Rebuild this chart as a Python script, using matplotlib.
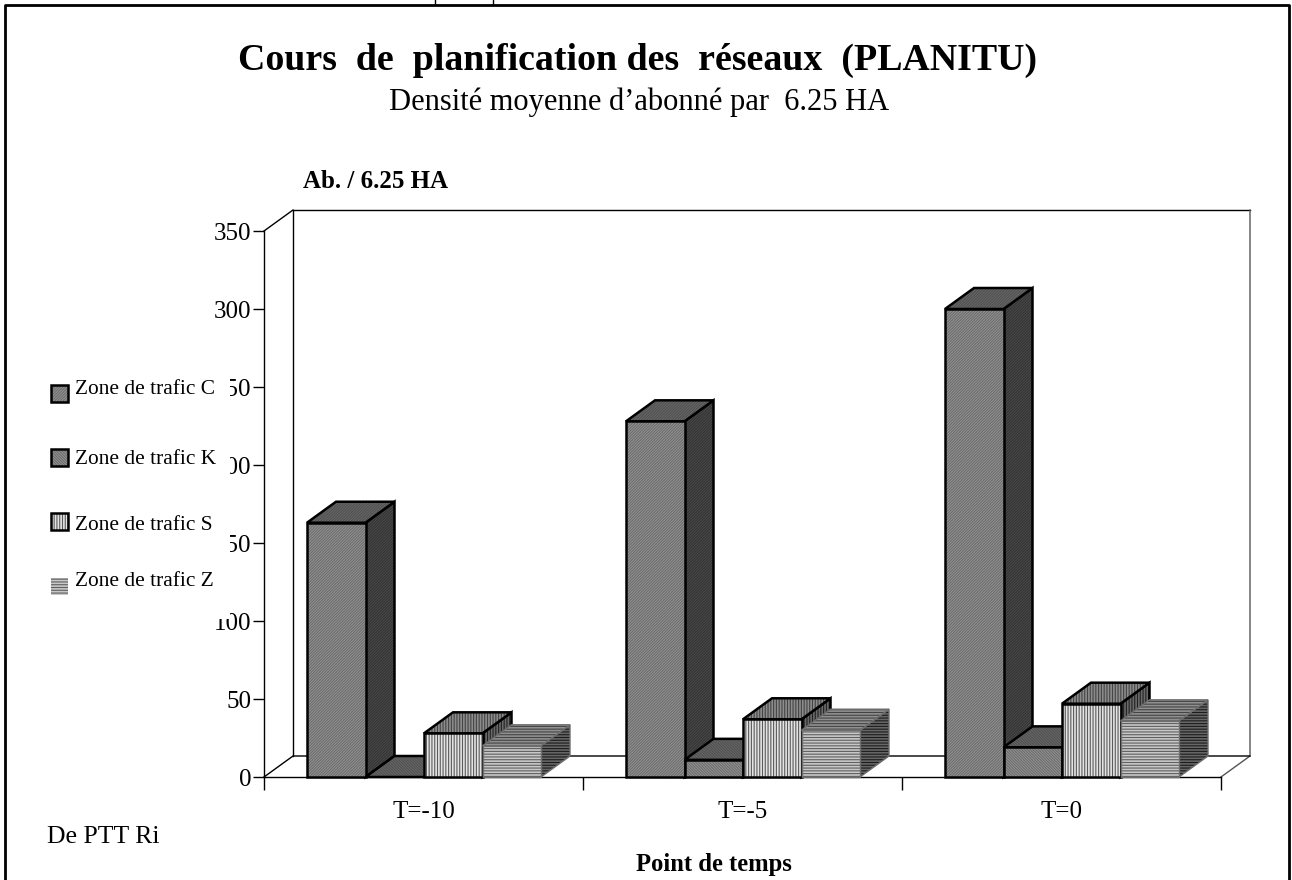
import numpy as np
import matplotlib
matplotlib.use('Agg')
import matplotlib.pyplot as plt
from matplotlib.patches import Polygon, Rectangle

plt.rcParams['font.family'] = ['Liberation Serif', 'DejaVu Serif']
plt.rcParams['hatch.linewidth'] = 0.8

groups = ['T=-10', 'T=-5', 'T=0']
zone_names = ['Zone de trafic C', 'Zone de trafic K', 'Zone de trafic S', 'Zone de trafic Z']
zone_c = [163, 228, 300]
zone_k = [0, 11, 19]
zone_s = [28, 37, 47]
zone_z = [20, 30, 36]
y_ticks = [0, 50, 100, 150, 200, 250, 300, 350]

W, H = 1292, 880
fig = plt.figure(figsize=(W / 100, H / 100), dpi=100, facecolor='white')

# plot box: y=0 at px 777, y=350 at px 231
ax = fig.add_axes([264 / W, 1 - 777 / H, (1221 - 264) / W, (777 - 231) / H])
ax.set_xlim(0, 3)
ax.set_ylim(0, 350)
for s in ['top', 'right']:
    ax.spines[s].set_visible(False)
ax.spines['left'].set_linewidth(1.0)
ax.spines['bottom'].set_linewidth(1.0)
ax.set_yticks(y_ticks)
ax.set_xticks([0, 1, 2, 3])
ax.set_xticklabels([])
ax.tick_params(axis='y', labelsize=18, length=8, width=1, pad=1)
ax.tick_params(axis='x', length=9, width=1)
ax.patch.set_alpha(0)

# 3d depth in data units
dx = 29 / 319
dy = 21 / 1.56
bar_w = 58.5 / 319
offset = 43 / 319

# back wall and floor
ax.plot([dx, dx, 3 + dx], [dy, 350 + dy, 350 + dy], color='black', lw=1, clip_on=False, zorder=1)
ax.plot([3 + dx, 3 + dx, 3], [350 + dy, dy, 0], color='#555555', lw=1, clip_on=False, zorder=1)
ax.plot([0, dx, 3 + dx], [0, dy, dy], color='black', lw=1, clip_on=False, zorder=1)
ax.plot([0, dx], [350, 350 + dy], color='black', lw=1, clip_on=False, zorder=1)

diag = '/' * 12
back = '\\' * 12
styles = [
    {'front': ('#969696', '#6c6c6c', diag), 'top': ('#6a6a6a', '#505050', diag),
     'side': ('#4c4c4c', '#333333', diag), 'edge': 'black'},
    {'front': ('#969696', '#6c6c6c', back), 'top': ('#6a6a6a', '#505050', back),
     'side': ('#4c4c4c', '#333333', back), 'edge': 'black'},
    {'front': ('#e4e4e4', '#5a5a5a', '|' * 6), 'top': ('#8c8c8c', '#444444', '|' * 6),
     'side': ('#6a6a6a', '#222222', '|' * 6), 'edge': 'black'},
    {'front': ('#c8c8c8', '#5f5f5f', '-' * 6), 'top': ('#909090', '#444444', '-' * 6),
     'side': ('#666666', '#1c1c1c', '-' * 6), 'edge': '#6e6e6e'},
]


def face(points, look, edge, z):
    ax.add_patch(Polygon(points, closed=True, facecolor=look[0], edgecolor=look[1], hatch=look[2],
                         lw=0, clip_on=False, zorder=z))
    edge_w = 1.8 if edge == 'black' else 1
    ax.add_patch(Polygon(points, closed=True, fill=False, edgecolor=edge, lw=edge_w, clip_on=False, zorder=z + 0.01))


for g in range(len(groups)):
    series = [zone_c[g], zone_k[g], zone_s[g], zone_z[g]]
    # later bars overlap the earlier ones
    for i in range(4):
        v = series[i]
        st = styles[i]
        x0 = g + offset + i * bar_w
        x1 = x0 + bar_w
        z = 3 + g + i * 0.1
        face([(x1, 0), (x1 + dx, dy), (x1 + dx, v + dy), (x1, v)], st['side'], st['edge'], z)
        face([(x0, v), (x0 + dx, v + dy), (x1 + dx, v + dy), (x1, v)], st['top'], st['edge'], z + 0.02)
        if v > 0:
            face([(x0, 0), (x1, 0), (x1, v), (x0, v)], st['front'], st['edge'], z + 0.04)

# overlay in pixel coordinates for the page furniture
ov = fig.add_axes([0, 0, 1, 1], zorder=5)
ov.set_xlim(0, W)
ov.set_ylim(H, 0)
ov.axis('off')

# frame has no bottom edge, the page cuts it off
ov.plot([5, 5, 1289, 1289], [880, 5, 5, 880], color='black', lw=2)
ov.plot([435, 435], [0, 4], color='black', lw=1)
ov.plot([493, 493], [0, 4], color='black', lw=1)

ov.text(238, 60, 'Cours  de  planification des  réseaux  (PLANITU)', fontsize=27.3, fontweight='bold',
        ha='left', va='center')
ov.text(389, 102, 'Densité moyenne d’abonné par  6.25 HA', fontsize=22, ha='left', va='center')
ov.text(303, 182, 'Ab. / 6.25 HA', fontsize=18, fontweight='bold', ha='left', va='center')
ov.text(714, 864, 'Point de temps', fontsize=17.7, fontweight='bold', ha='center', va='center')
ov.text(47, 837, 'De PTT Ri', fontsize=18.5, ha='left', va='center')

# group labels sit under the x axis, centred in each group
for g, name in enumerate(groups):
    xp = ax.transData.transform((g + 0.5, 0))[0]
    ov.text(xp, 812, name, fontsize=18, ha='center', va='center')

# legend block hides part of the tick labels, as in the original
ov.add_patch(Rectangle((20, 372), 210, 247, facecolor='white', edgecolor='none', zorder=1))
text_y = [389, 459, 525, 581]
box_y = [385, 449, 513, 578]
for i, name in enumerate(zone_names):
    st = styles[i]['front']
    ov.add_patch(Rectangle((51, box_y[i]), 17, 17, facecolor=st[0], edgecolor=st[1], hatch=st[2], lw=0, zorder=2))
    if i < 3:
        ov.add_patch(Rectangle((51, box_y[i]), 17, 17, fill=False, edgecolor='black', lw=1.8, zorder=2.1))
    ov.text(75, text_y[i], name, fontsize=15.4, ha='left', va='center', zorder=2)

fig.savefig('out.png', dpi=100)
